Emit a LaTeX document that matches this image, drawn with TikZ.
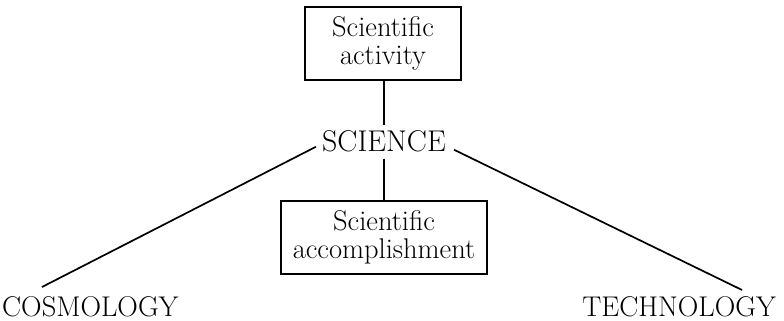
\documentclass[tikz,border=0pt]{standalone}
\begin{document}
\begin{tikzpicture}[x=1pt,y=1pt,
  box/.style={draw,line width=1.3pt,inner sep=0pt,align=center,
    font=\fontsize{28.5}{28}\selectfont},
  lbl/.style={inner sep=0pt,font=\fontsize{28.5}{30}\selectfont},
  conn/.style={line width=1.7pt}]
\useasboundingbox (0,0) rectangle (784,321);
\node[box,minimum width=156pt,minimum height=73pt] (act) at (383,277.5) {Scientific\\activity};
\node[inner sep=6pt,anchor=base,font=\fontsize{30}{30}\selectfont] (sci) at (384,169) {SCIENCE};
\node[box,minimum width=206pt,minimum height=73pt] (acc) at (384,83.5) {Scientific\\accomplishment};
\node[lbl,anchor=base west] (cos) at (2,4) {COSMOLOGY};
\node[lbl,anchor=base east] (tech) at (776,4) {TECHNOLOGY};
\coordinate (cend) at (42,34);
\coordinate (tend) at (742,31);
\draw[conn] (act.south -| sci.north) -- (sci.north);
\draw[conn] (sci.south) -- (sci.south |- acc.north);
\draw[conn] ([yshift=-5pt]sci.west) -- (cend);
\draw[conn] ([xshift=2pt,yshift=-8pt]sci.east) -- (tend);
\end{tikzpicture}
\end{document}
